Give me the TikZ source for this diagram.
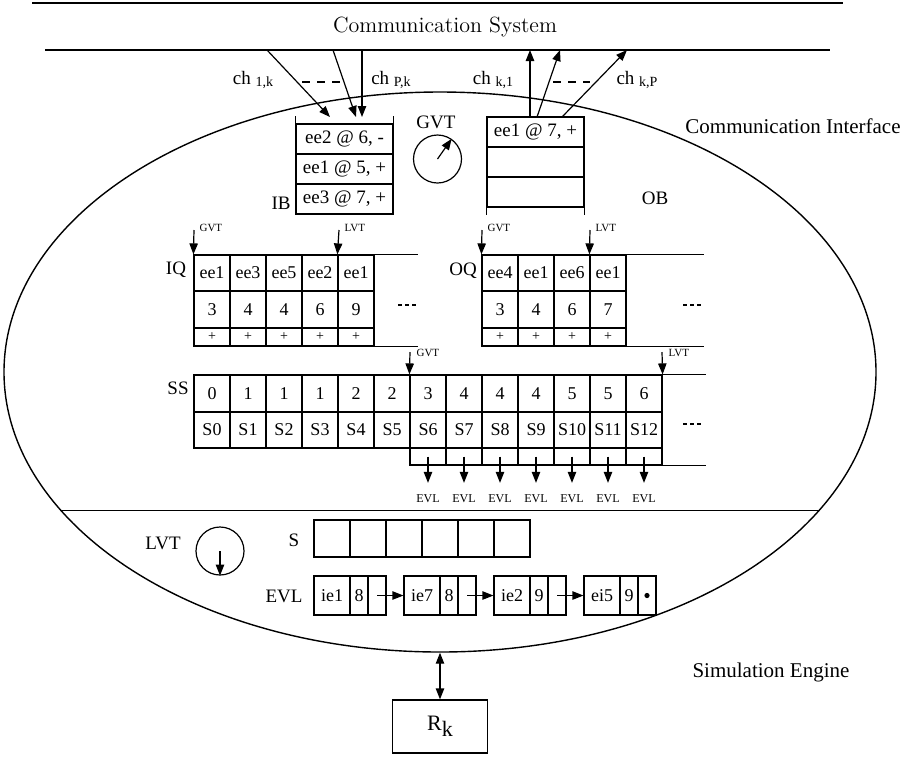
\documentclass[tikz,border=0pt]{standalone}
\usepackage{fontspec}
\usetikzlibrary{arrows.meta,shapes.geometric}
\newfontfamily\tms{Liberation Serif}
\newcommand{\fsz}[1]{\tms\fontsize{#1}{#1}\selectfont}
\newcommand{\chlab}[1]{ch\ \raisebox{-1pt}{\fontsize{7}{7}\selectfont #1}}

\begin{document}
\begin{tikzpicture}[x=0.5pt,y=-0.5pt,line width=0.6pt,
  txt/.style={inner sep=1pt,font=\fsz{9.5}},
  title/.style={inner sep=1pt,font=\fontsize{11}{13}\selectfont},
  tag/.style={inner sep=1pt,font=\fsz{5.5}},
  cell/.style={draw,inner sep=0pt,minimum width=18pt,minimum height=#1,font=\fsz{9}},
  cell/.default=18pt,
  plus/.style={cell=9pt,font=\fsz{7}},
  bufrow/.style={draw,inner sep=0pt,minimum width=48.5pt,minimum height=15pt,font=\fsz{9.5}},
  clock/.style={draw,circle,inner sep=0pt,minimum size=24pt},
  more/.style={dash pattern=on 2pt off 1.5pt},
  chgap/.style={dash pattern=on 4pt off 3.5pt},
  arrow/.style={-{Triangle[length=5.5pt,width=4.2pt]}},
  dblarrow/.style={{Triangle[length=5.5pt,width=4.2pt]}-{Triangle[length=5.5pt,width=4.2pt]}}
]
\useasboundingbox (0,0) rectangle (904,757);

% communication system
\coordinate (cs1) at (32,3);
\coordinate (cs2) at (843,3);
\coordinate (cs3) at (45,50);
\coordinate (cs4) at (830,50);
\draw (cs1) -- (cs2);
\draw (cs3) -- (cs4);
\node[title] (cs) at (445,27) {Communication System};

% interface / engine
\node[draw,ellipse,line width=0.7pt,inner sep=0pt,minimum width=436pt,minimum height=280pt] (ci) at (440,372) {};
\draw (ci.200) -- (ci.340);
\node[txt,font=\fsz{10.5}] (cil) at (793,126) {Communication Interface};
\node[txt,font=\fsz{10.5}] (sel) at (771,672) {Simulation Engine};

% channels
\node[txt] (ch1) at (253,80) {\chlab{1,k}};
\node[txt] (ch2) at (391,80) {\chlab{P,k}};
\node[txt] (ch3) at (493,80) {\chlab{k,1}};
\node[txt] (ch4) at (637,80) {\chlab{k,P}};
\draw[chgap] (302,82) -- (340,82);
\draw[chgap] (553,82) -- (590,82);
\coordinate (a1) at (267,50);
\coordinate (a1t) at (330,117);
\coordinate (a2) at (333,50);
\coordinate (a2t) at (356,117);
\coordinate (a3) at (362,50);
\coordinate (a3t) at (362,117);
\draw[arrow] (a1) -- (a1t);
\draw[arrow] (a2) -- (a2t);
\draw[arrow] (a3) -- (a3t);
\coordinate (b1) at (530,117);
\coordinate (b1t) at (530,50);
\coordinate (b2) at (537,117);
\coordinate (b2t) at (560,50);
\coordinate (b3) at (562,117);
\coordinate (b3t) at (627,50);
\draw[arrow] (b1) -- (b1t);
\draw[arrow] (b2) -- (b2t);
\draw[arrow] (b3) -- (b3t);

% input buffer
\node[bufrow] (ib1) at (344.5,139) {ee2 @ 6, -};
\node[bufrow] (ib2) at (344.5,169) {ee1 @ 5, +};
\node[bufrow] (ib3) at (344.5,199) {ee3 @ 7, +};
\draw (ib1.north west) -- ++(0,-7);
\draw (ib1.north east) -- ++(0,-7);
\node[txt] (ibl) at (281,203) {IB};

% gvt clock
\node[clock] (gvt) at (437.5,159) {};
\draw[arrow] (gvt.center) -- (gvt.55);
\node[txt] (gvtl) at (436,122) {GVT};

% output buffer
\node[bufrow] (ob1) at (535.5,132) {ee1 @ 7, +};
\node[bufrow] (ob2) at (535.5,162) {};
\node[bufrow] (ob3) at (535.5,192) {};
\draw (ob3.south west) -- ++(0,7);
\draw (ob3.south east) -- ++(0,7);
\node[txt] (obl) at (655,198) {OB};

% input queue
\foreach \n [count=\i] in {ee1,ee3,ee5,ee2,ee1}
  \node[cell] (iqa\i) at (176+36*\i,273) {\n};
\foreach \n [count=\i] in {3,4,4,6,9}
  \node[cell=18.5pt] (iqb\i) at (176+36*\i,309.5) {\n};
\foreach \i in {1,...,5}
  \node[plus] (iqc\i) at (176+36*\i,337) {+};
\draw (iqa5.north east) -- ++(43,0);
\draw (iqc5.south east) -- ++(43,0);
\draw[more] (398,305) -- (417,305);
\node[txt] (iql) at (176,270) {IQ};
\coordinate (iqg) at (194,230);
\coordinate (iqv) at (339,230);
\draw[arrow] (iqg) -- (iqa1.north west);
\draw[arrow] (iqv) -- (iqa5.north west);
\node[tag,anchor=west] (iqgl) at (197,228) {GVT};
\node[tag,anchor=west] (iqvl) at (342,228) {LVT};

% output queue
\foreach \n [count=\i] in {ee4,ee1,ee6,ee1}
  \node[cell] (oqa\i) at (464+36*\i,273) {\n};
\foreach \n [count=\i] in {3,4,6,7}
  \node[cell=18.5pt] (oqb\i) at (464+36*\i,309.5) {\n};
\foreach \i in {1,...,4}
  \node[plus] (oqc\i) at (464+36*\i,337) {+};
\draw (oqa4.north east) -- ++(77,0);
\draw (oqc4.south east) -- ++(77,0);
\draw[more] (683,305) -- (703,305);
\node[txt] (oql) at (463,271) {OQ};
\coordinate (oqg) at (482,230);
\coordinate (oqv) at (590,230);
\draw[arrow] (oqg) -- (oqa1.north west);
\draw[arrow] (oqv) -- (oqa4.north west);
\node[tag,anchor=west] (oqgl) at (485,228) {GVT};
\node[tag,anchor=west] (oqvl) at (593,228) {LVT};

% state stack
\foreach \v [count=\i from 0] in {0,1,1,1,2,2,3,4,4,4,5,5,6}
  \node[cell=18.5pt] (ssa\i) at (212+36*\i,393.5) {\v};
\foreach \i in {0,...,12}
  \node[cell] (ssb\i) at (212+36*\i,430) {S\i};
\foreach \i in {6,...,12} {
  \node[cell=8.5pt] (ssc\i) at (212+36*\i,456.5) {};
  \node[tag,font=\fsz{6},inner ysep=5.5pt] (evl\i) at (212+36*\i,498.5) {EVL};
  \draw[arrow] (ssc\i.center) -- (evl\i.north);
}
\draw (ssa12.north east) -- ++(43,0);
\draw (ssc12.south east) -- ++(43,0);
\draw[more] (683,424) -- (703,424);
\node[txt] (ssl) at (178,388) {SS};
\coordinate (ssg) at (410,352);
\coordinate (ssv) at (662,352);
\draw[arrow] (ssg) -- (ssa6.north west);
\draw[arrow] (ssv) -- (ssa12.north east);
\node[tag,anchor=west] (ssgl) at (414,353) {GVT};
\node[tag,anchor=west] (ssvl) at (666,353) {LVT};

% simulation engine
\node[clock] (lvt) at (220,551) {};
\draw[arrow] (lvt.center) -- (lvt.south);
\node[txt] (lvtl) at (163,543) {LVT};
\foreach \i in {1,...,6}
  \node[cell=18.5pt] (st\i) at (296+36*\i,538.5) {};
\node[txt] (stl) at (294,540) {S};
\foreach \n/\t [count=\i] in {ie1/8,ie7/8,ie2/9,ei5/9} {
  \node[cell=19.5pt] (ev\i) at (242+90*\i,595.5) {\n};
  \node[cell=19.5pt,minimum width=9pt] (et\i) at (269+90*\i,595.5) {\t};
  \node[cell=19.5pt,minimum width=9pt] (ep\i) at (287+90*\i,595.5) {};
}
\foreach \i/\j in {1/2,2/3,3/4}
  \draw[arrow] (ep\i.center) -- (ev\j.west);
\fill (ep4.center) circle (1.3pt);
\node[txt] (evll) at (284,596) {EVL};

% resource
\node[draw,inner sep=0pt,minimum width=47.5pt,minimum height=26.5pt,font=\fsz{11}] (rk) at (440,726.5) {R\raisebox{-3pt}{k}};
\draw[dblarrow] (ci.south) -- (rk.north);
\end{tikzpicture}
\end{document}
